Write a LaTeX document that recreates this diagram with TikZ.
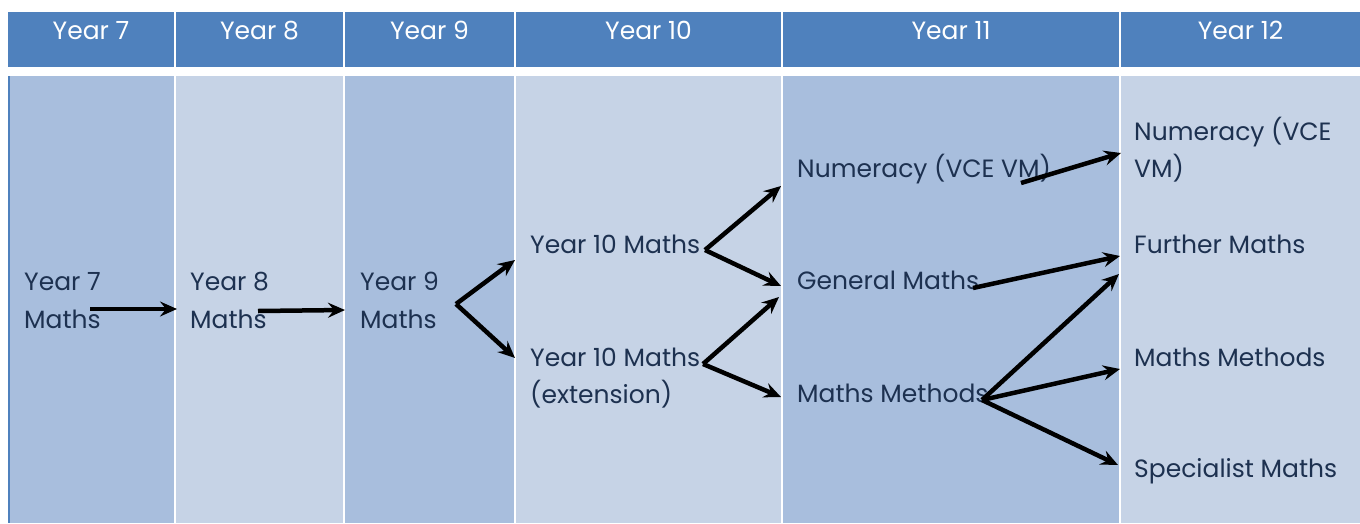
\documentclass[tikz,border=0pt]{standalone}
\usepackage{fontspec}
\setmainfont{Poppins}
\usetikzlibrary{arrows.meta}
\definecolor{hdr}{HTML}{4F81BD}
\definecolor{darkcol}{HTML}{A8BEDD}
\definecolor{lightcol}{HTML}{C6D3E6}
\definecolor{txt}{HTML}{1D3150}
\tikzset{
  lbl/.style={anchor=base west, inner sep=0pt, text=txt, font=\fontsize{25}{37}\selectfont},
  hlbl/.style={anchor=base, inner sep=0pt, text=white, font=\fontsize{25}{37}\selectfont},
  flow/.style={line width=4.5pt, -{Stealth[length=17pt,width=15pt,inset=6pt]}, black},
}
\begin{document}
\begin{tikzpicture}[x=1pt,y=-1pt]
\useasboundingbox (0,0) rectangle (1360,523);
\fill[white] (0,0) rectangle (1360,523);
% header cells
\fill[hdr] (8,12) rectangle (174,67);
\fill[hdr] (176,12) rectangle (343,67);
\fill[hdr] (345,12) rectangle (514,67);
\fill[hdr] (516,12) rectangle (781,67);
\fill[hdr] (783,12) rectangle (1119,67);
\fill[hdr] (1121,12) rectangle (1360,67);
% body columns
\fill[hdr] (8,76) rectangle (10,523);
\fill[darkcol] (10,76) rectangle (174,523);
\fill[lightcol] (176,76) rectangle (343,523);
\fill[darkcol] (345,76) rectangle (514,523);
\fill[lightcol] (516,76) rectangle (781,523);
\fill[darkcol] (783,76) rectangle (1119,523);
\fill[lightcol] (1121,76) rectangle (1360,523);
% header labels
\node[hlbl] (h7) at (91,39) {Year 7};
\node[hlbl] (h8) at (259.5,39) {Year 8};
\node[hlbl] (h9) at (429.5,39) {Year 9};
\node[hlbl] (h10) at (648.5,39) {Year 10};
\node[hlbl] (h11) at (951,39) {Year 11};
\node[hlbl] (h12) at (1240.5,39) {Year 12};
% body labels
\node[lbl] (y7a) at (24,290) {Year 7};
\node[lbl] (y7b) at (24,328) {Maths};
\node[lbl] (y8a) at (190,290) {Year 8};
\node[lbl] (y8b) at (190,328) {Maths};
\node[lbl] (y9a) at (360,290) {Year 9};
\node[lbl] (y9b) at (360,328) {Maths};
\node[lbl] (y10) at (530,253) {Year 10 Maths};
\node[lbl] (y10xa) at (530,366) {Year 10 Maths};
\node[lbl] (y10xb) at (530,403) {(extension)};
\node[lbl] (num11) at (797,177) {Numeracy (VCE VM)};
\node[lbl] (gen11) at (797,289) {General Maths};
\node[lbl] (mm11) at (797,402) {Maths Methods};
\node[lbl] (num12a) at (1134,140) {Numeracy (VCE};
\node[lbl] (num12b) at (1134,177) {VM)};
\node[lbl] (fur12) at (1134,253) {Further Maths};
\node[lbl] (mm12) at (1134,366) {Maths Methods};
\node[lbl] (sp12) at (1134,477) {Specialist Maths};
% arrow points
\coordinate (a7) at (90,309);
\coordinate (b8) at (177,309);
\coordinate (a8) at (258,311);
\coordinate (b9) at (345,310);
\coordinate (a9) at (456,304);
\coordinate (b10u) at (515,260);
\coordinate (b10d) at (515,358);
\coordinate (a10) at (705,250);
\coordinate (b11n) at (781,186);
\coordinate (b11g) at (781,286);
\coordinate (a10x) at (703,364);
\coordinate (b11g2) at (779,297);
\coordinate (b11m) at (781,397);
\coordinate (a11n) at (1021,183);
\coordinate (b12n) at (1121,153);
\coordinate (a11g) at (973,288);
\coordinate (b12f) at (1120,256);
\coordinate (a11m) at (982,400);
\coordinate (b12f2) at (1119,274);
\coordinate (b12m) at (1120,369);
\coordinate (b12s) at (1118,465);
% arrows
\draw[flow] (a7) -- (b8);
\draw[flow] (a8) -- (b9);
\draw[flow] (a9) -- (b10u);
\draw[flow] (a9) -- (b10d);
\draw[flow] (a10) -- (b11n);
\draw[flow] (a10) -- (b11g);
\draw[flow] (a10x) -- (b11g2);
\draw[flow] (a10x) -- (b11m);
\draw[flow] (a11n) -- (b12n);
\draw[flow] (a11g) -- (b12f);
\draw[flow] (a11m) -- (b12f2);
\draw[flow] (a11m) -- (b12m);
\draw[flow] (a11m) -- (b12s);
\end{tikzpicture}
\end{document}
